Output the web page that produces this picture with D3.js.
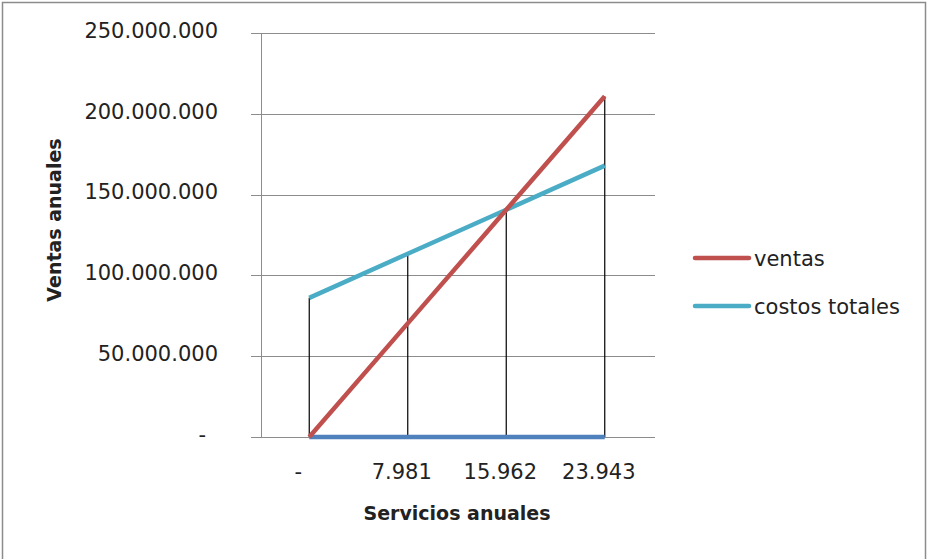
<!DOCTYPE html>
<html>
<head>
<meta charset="utf-8">
<script src="https://cdn.jsdelivr.net/npm/d3@7"></script>
<style>
  body { margin: 0; background: #fff; }
  text { font-family: "DejaVu Sans", sans-serif; fill: #222; }
</style>
</head>
<body>
<div id="chart"></div>
<script>
// data
const categories = ["-", "7.981", "15.962", "23.943"];
const ventas = [0, 70300000, 140600000, 210900000];
const costosTotales = [86100000, 113400000, 140600000, 167900000];
const baseSeries = [0, 0, 0, 0];
const yTicks = [0, 50000000, 100000000, 150000000, 200000000, 250000000];

const W = 929, H = 559;
const svg = d3.select("#chart").append("svg")
  .attr("width", W).attr("height", H);

// chart border
svg.append("rect")
  .attr("x", 2.5).attr("y", 2.5)
  .attr("width", 923).attr("height", 570)
  .attr("fill", "none").attr("stroke", "#8c8c8c").attr("stroke-width", 1.5);

const plotLeft = 261, plotRight = 655, plotTop = 33, plotBottom = 437;

const locale = d3.formatLocale({ decimal: ",", thousands: ".", grouping: [3], currency: ["", ""] });
const fmt = locale.format(",");

const x = d3.scaleBand().domain(categories).range([plotLeft - 1, plotRight - 1]).padding(0);
const y = d3.scaleLinear().domain([0, 250000000]).range([plotBottom, plotTop]);
const cx = c => x(c) + x.bandwidth() / 2;

// gridlines
svg.append("g")
  .attr("class", "grid")
  .attr("transform", `translate(${plotLeft},0)`)
  .call(d3.axisLeft(y).tickValues(yTicks).tickSize(-(plotRight - plotLeft)).tickFormat(""))
  .call(g => g.select(".domain").remove());

// y axis
svg.append("g")
  .attr("class", "yaxis")
  .attr("transform", `translate(${plotLeft},0)`)
  .call(d3.axisLeft(y).tickValues(yTicks).tickSize(10).tickPadding(33)
    .tickFormat(d => d === 0 ? "-" : fmt(d)))
  .call(g => g.selectAll("text").attr("dy", "0.2em").style("font-size", "21px")
    .attr("dx", d => d === 0 ? -12 : 0));

svg.selectAll(".grid line, .yaxis line, .yaxis path")
  .attr("stroke", "#8c8c8c").attr("stroke-width", 1)
  .style("shape-rendering", "crispEdges");

// x axis labels
svg.append("g")
  .attr("class", "xaxis")
  .attr("transform", `translate(0,${plotBottom})`)
  .call(d3.axisBottom(x).tickSize(0).tickPadding(27))
  .call(g => g.select(".domain").remove())
  .call(g => g.selectAll("text").style("font-size", "21px")
    .attr("dx", (d, i) => i === 0 ? -11 : -6));

// drop lines
svg.append("g").selectAll("line")
  .data(categories)
  .join("line")
    .attr("x1", d => cx(d)).attr("x2", d => cx(d))
    .attr("y1", (d, i) => y(Math.max(ventas[i], costosTotales[i])))
    .attr("y2", y(0))
    .attr("stroke", "#000").attr("stroke-width", 1.2);

const line = d3.line()
  .x((d, i) => cx(categories[i]))
  .y(d => y(d));

const series = [
  { values: baseSeries, color: "#4f81bd" },
  { values: costosTotales, color: "#4bacc6" },
  { values: ventas, color: "#c0504d" }
];

svg.append("g").selectAll("path")
  .data(series)
  .join("path")
    .attr("d", d => line(d.values))
    .attr("fill", "none")
    .attr("stroke", d => d.color)
    .attr("stroke-width", 4.5);

// axis titles
svg.append("text")
  .attr("x", 457).attr("y", 520)
  .attr("text-anchor", "middle")
  .style("font-size", "19px").style("font-weight", "bold")
  .text("Servicios anuales");

svg.append("text")
  .attr("transform", "translate(61,220) rotate(-90)")
  .attr("text-anchor", "middle")
  .style("font-size", "19px").style("font-weight", "bold")
  .text("Ventas anuales");

// legend
const legendItems = [
  { name: "ventas", color: "#c0504d" },
  { name: "costos totales", color: "#4bacc6" }
];
const legend = svg.append("g").selectAll("g")
  .data(legendItems)
  .join("g")
    .attr("transform", (d, i) => `translate(695,${258 + i * 48})`);
legend.append("line")
  .attr("x1", 0).attr("x2", 54)
  .attr("stroke", d => d.color).attr("stroke-width", 4.5)
  .attr("stroke-linecap", "round");
legend.append("text")
  .attr("x", 59).attr("y", 8)
  .style("font-size", "21px")
  .text(d => d.name);
</script>
</body>
</html>
